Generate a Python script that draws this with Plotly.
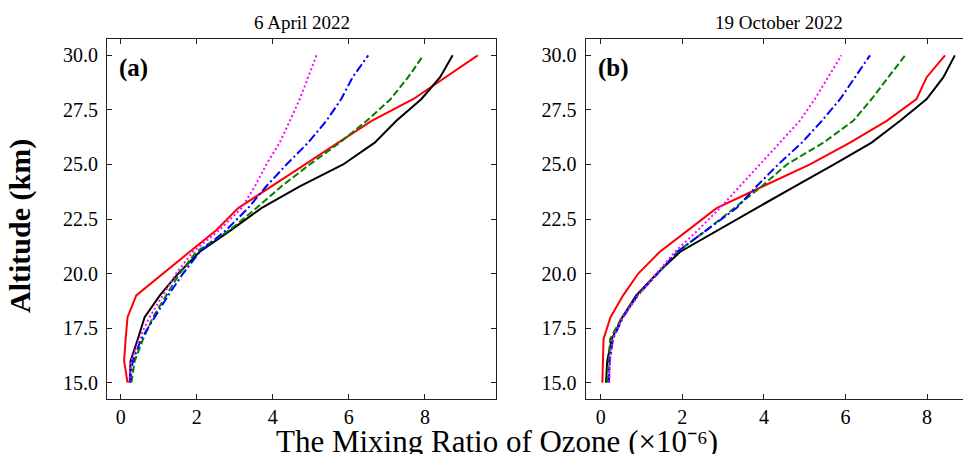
import plotly.graph_objects as go

altitude = [15, 16, 17, 18, 19, 20, 21, 22, 23, 24, 25, 26, 27, 28, 29, 30]

# Panel (a): 6 April 2022
red_a = [0.18, 0.09, 0.13, 0.18, 0.41, 1.11, 1.80, 2.52, 3.09, 3.98, 4.85, 5.72, 6.60, 7.70, 8.55, 9.39]
black_a = [0.24, 0.26, 0.45, 0.63, 1.03, 1.51, 2.08, 2.91, 3.70, 4.71, 5.85, 6.68, 7.25, 7.91, 8.40, 8.73]
green_a = [0.28, 0.37, 0.59, 0.85, 1.20, 1.55, 1.99, 2.87, 3.57, 4.23, 4.97, 5.76, 6.47, 7.10, 7.56, 7.96]
blue_a = [0.24, 0.32, 0.54, 0.89, 1.25, 1.64, 2.08, 2.78, 3.35, 3.83, 4.36, 4.93, 5.41, 5.80, 6.10, 6.51]
magenta_a = [0.22, 0.28, 0.48, 0.76, 1.11, 1.46, 1.90, 2.60, 3.18, 3.53, 3.83, 4.18, 4.45, 4.71, 4.93, 5.15]

# Panel (b): 19 October 2022
red_b = [0.04, 0.06, 0.07, 0.24, 0.55, 0.92, 1.45, 2.15, 2.84, 3.98, 5.13, 6.11, 7.01, 7.74, 7.99, 8.44]
black_b = [0.13, 0.16, 0.27, 0.53, 0.87, 1.38, 1.95, 2.90, 3.82, 4.76, 5.72, 6.64, 7.34, 7.99, 8.40, 8.68]
green_b = [0.16, 0.19, 0.23, 0.52, 0.90, 1.40, 1.88, 2.60, 3.29, 3.95, 4.56, 5.46, 6.19, 6.64, 7.05, 7.46]
blue_b = [0.20, 0.22, 0.30, 0.55, 0.90, 1.40, 1.88, 2.60, 3.33, 3.82, 4.35, 4.93, 5.42, 5.87, 6.23, 6.60]
magenta_b = [0.21, 0.23, 0.28, 0.55, 0.92, 1.38, 1.82, 2.39, 2.92, 3.41, 3.90, 4.39, 4.88, 5.25, 5.58, 5.90]

x_ticks = [0, 2, 4, 6, 8]
y_ticks = [15.0, 17.5, 20.0, 22.5, 25.0, 27.5, 30.0]

styles = [
    ("#ff0000", "solid"),
    ("#000000", "solid"),
    ("#008000", "7px,3px"),
    ("#0000ff", "9px,3px,2px,3px"),
    ("#ff00ff", "2px,2.6px"),
]

fig = go.Figure()
for series, (xa, ya) in [((red_a, black_a, green_a, blue_a, magenta_a), ("x", "y")),
                         ((red_b, black_b, green_b, blue_b, magenta_b), ("x2", "y2"))]:
    for vals, (col, dash) in zip(series, styles):
        fig.add_trace(go.Scatter(x=vals, y=altitude, mode="lines", xaxis=xa, yaxis=ya,
                                 line=dict(color=col, width=2, dash=dash), showlegend=False))

FONT = "Liberation Serif, Times New Roman, serif"
W, H = 963, 454
ytop, ybot = 39, 399
ydom = [1 - ybot / H, 1 - ytop / H]

axis_common = dict(showline=True, linecolor="#222", linewidth=1.2, ticks="inside",
                   ticklen=5, tickcolor="#222", tickwidth=1, showgrid=False, zeroline=False,
                   tickfont=dict(family=FONT, size=20, color="black"))

fig.update_layout(
    width=W, height=H, margin=dict(l=0, r=0, t=0, b=0),
    paper_bgcolor="white", plot_bgcolor="white",
    xaxis=dict(domain=[107 / W, 496 / W], range=[-0.36, 9.87], tickvals=x_ticks,
               mirror="allticks", anchor="y", **axis_common),
    yaxis=dict(domain=ydom, range=[14.25, 30.75], tickvals=y_ticks, tickformat=".1f",
               mirror="allticks", anchor="x", ticklabelstandoff=4, **axis_common),
    xaxis2=dict(domain=[585.5 / W, 1.0], range=[-0.373, 8.88], tickvals=x_ticks,
                mirror="allticks", anchor="y2", **axis_common),
    yaxis2=dict(domain=ydom, range=[14.25, 30.75], tickvals=y_ticks, tickformat=".1f",
                mirror=False, anchor="x2", ticklabelstandoff=4, **axis_common),
    annotations=[
        dict(text="6 April 2022", x=301.5 / W, y=1 - 22 / H, xref="paper", yref="paper",
             showarrow=False, font=dict(family=FONT, size=19, color="black"),
             xanchor="center", yanchor="middle"),
        dict(text="19 October 2022", x=779 / W, y=1 - 22 / H, xref="paper", yref="paper",
             showarrow=False, font=dict(family=FONT, size=19, color="black"),
             xanchor="center", yanchor="middle"),
        dict(text="<b>(a)</b>", x=117 / W, y=1 - 68 / H, xref="paper", yref="paper",
             showarrow=False, font=dict(family=FONT, size=25, color="black"),
             xanchor="left", yanchor="middle"),
        dict(text="<b>(b)</b>", x=596 / W, y=1 - 68 / H, xref="paper", yref="paper",
             showarrow=False, font=dict(family=FONT, size=25, color="black"),
             xanchor="left", yanchor="middle"),
        dict(text="<b>Altitude (km)</b>", x=20 / W, y=1 - 226 / H, xref="paper", yref="paper",
             showarrow=False, textangle=-90, font=dict(family=FONT, size=30, color="black"),
             xanchor="center", yanchor="middle"),
        dict(text="The Mixing Ratio of Ozone (×10⁻⁶)", x=497 / W, y=1 - 441 / H,
             xref="paper", yref="paper", showarrow=False,
             font=dict(family=FONT, size=31, color="black"),
             xanchor="center", yanchor="middle"),
    ],
)

fig.write_html("out.html")
